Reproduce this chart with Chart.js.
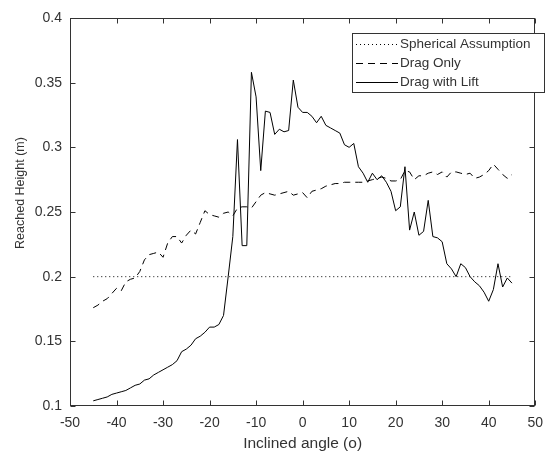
<!DOCTYPE html>
<html>
<head>
<meta charset="utf-8">
<script src="https://cdn.jsdelivr.net/npm/chart.js@4/dist/chart.umd.min.js"></script>
<style>
html,body{margin:0;padding:0;background:#fff;}
#wrap{width:552px;height:456px;}
</style>
</head>
<body>
<div id="wrap"><canvas id="c" width="552" height="456"></canvas></div>
<script>
const angles = [-45,-44,-43,-42,-41,-40,-39,-38,-37,-36,-35,-34,-33,-32,-31,-30,-29,-28,-27,-26,-25,-24,-23,-22,-21,-20,-19,-18,-17,-16,-15,-14,-13,-12,-11,-10,-9,-8,-7,-6,-5,-4,-3,-2,-1,0,1,2,3,4,5,6,7,8,9,10,11,12,13,14,15,16,17,18,19,20,21,22,23,24,25,26,27,28,29,30,31,32,33,34,35,36,37,38,39,40,41,42,43,44,45];

const sphericalHeight = 0.2;

const dragOnly = [0.176,0.178,0.181,0.183,0.187,0.191,0.189,0.196,0.198,0.199,0.204,0.213,0.217,0.218,0.219,0.215,0.226,0.231,0.231,0.226,0.232,0.236,0.233,0.242,0.251,0.248,0.247,0.246,0.249,0.250,0.247,0.253,0.254,0.254,0.253,0.258,0.263,0.265,0.264,0.263,0.264,0.265,0.266,0.263,0.264,0.265,0.261,0.266,0.267,0.268,0.270,0.271,0.272,0.272,0.273,0.273,0.273,0.273,0.273,0.274,0.275,0.276,0.277,0.276,0.274,0.274,0.275,0.282,0.281,0.275,0.278,0.278,0.280,0.281,0.279,0.281,0.277,0.281,0.281,0.280,0.279,0.280,0.276,0.277,0.279,0.282,0.287,0.283,0.279,0.276,0.279];

const dragWithLift = [0.104,0.105,0.106,0.107,0.109,0.110,0.111,0.112,0.114,0.116,0.117,0.120,0.121,0.124,0.126,0.128,0.130,0.132,0.135,0.142,0.144,0.147,0.152,0.154,0.157,0.161,0.161,0.163,0.170,0.200,0.231,0.306,0.224,0.224,0.358,0.339,0.282,0.328,0.327,0.310,0.314,0.312,0.313,0.352,0.331,0.327,0.327,0.324,0.319,0.324,0.317,0.315,0.313,0.311,0.302,0.300,0.303,0.285,0.280,0.273,0.280,0.275,0.278,0.273,0.266,0.251,0.254,0.285,0.236,0.250,0.232,0.235,0.259,0.231,0.230,0.227,0.210,0.206,0.200,0.210,0.207,0.200,0.196,0.193,0.188,0.181,0.190,0.210,0.192,0.199,0.195];

const seriesNames = ["Spherical Assumption","Drag Only","Drag with Lift"];
const xTicks = [-50,-40,-30,-20,-10,0,10,20,30,40,50];
const yTicks = [0.1,0.15,0.2,0.25,0.3,0.35,0.4];
const xTitle = "Inclined angle (o)";
const yTitle = "Reached Height (m)";

const FONT = "'Liberation Sans', Arial, Helvetica, sans-serif";
const TXT = '#333333';
const AX = '#333333';
const LINE = '#000000';
const DASH = [7,5];
const DOT = [1,3];

const pts = arr => angles.map((a,i)=>({x:a,y:arr[i]}));

const dsStyles = [
  {borderDash:DOT, borderWidth:1},
  {borderDash:DASH, borderWidth:1},
  {borderDash:[], borderWidth:1}
];

const frameTicks = {
  id:'frameTicks',
  afterDatasetsDraw(chart){
    const {ctx, chartArea:a, scales} = chart;
    const xs = scales.x, ys = scales.y;
    ctx.save();
    ctx.strokeStyle = AX;
    ctx.lineWidth = 1;
    ctx.setLineDash([]);
    const L = Math.round(a.left)+0.5, R = Math.round(a.right)-0.5;
    const T = Math.round(a.top)+0.5, B = Math.round(a.bottom)-0.5;
    ctx.strokeRect(L, T, R-L, B-T);
    const tl = 5;
    ctx.beginPath();
    xTicks.forEach(v=>{
      const px = Math.round(xs.getPixelForValue(v))+0.5;
      ctx.moveTo(px,B); ctx.lineTo(px,B-tl);
      ctx.moveTo(px,T); ctx.lineTo(px,T+tl);
    });
    yTicks.forEach(v=>{
      const py = Math.round(ys.getPixelForValue(v))+0.5;
      ctx.moveTo(L,py); ctx.lineTo(L+tl,py);
      ctx.moveTo(R,py); ctx.lineTo(R-tl,py);
    });
    ctx.stroke();

    // y-axis title
    ctx.save();
    ctx.translate(21, 193);
    ctx.rotate(-Math.PI/2);
    ctx.font = '12.5px ' + FONT;
    ctx.fillStyle = TXT;
    ctx.textAlign = 'center';
    ctx.textBaseline = 'middle';
    ctx.fillText(yTitle, 0, 0);
    ctx.restore();

    // legend box
    const bx = 352.5, by = 33.5, bw = 192, bh = 59;
    ctx.fillStyle = '#fff';
    ctx.fillRect(bx,by,bw,bh);
    ctx.strokeStyle = AX;
    ctx.strokeRect(bx,by,bw,bh);
    ctx.font = '13.5px ' + FONT;
    ctx.textBaseline = 'middle';
    ctx.textAlign = 'left';
    seriesNames.forEach((name,i)=>{
      const yy = 44.5 + i*19;
      ctx.save();
      ctx.strokeStyle = LINE;
      ctx.lineWidth = 1;
      ctx.setLineDash(dsStyles[i].borderDash);
      ctx.beginPath();
      ctx.moveTo(356, yy); ctx.lineTo(398, yy);
      ctx.stroke();
      ctx.restore();
      ctx.fillStyle = TXT;
      ctx.fillText(name, 400, yy);
    });
    ctx.restore();
  }
};

new Chart(document.getElementById('c'), {
  type:'line',
  data:{
    datasets:[
      {label:seriesNames[0], data:pts(angles.map(()=>sphericalHeight)), borderColor:LINE, ...dsStyles[0]},
      {label:seriesNames[1], data:pts(dragOnly), borderColor:LINE, ...dsStyles[1]},
      {label:seriesNames[2], data:pts(dragWithLift), borderColor:LINE, ...dsStyles[2]}
    ]
  },
  options:{
    responsive:false,
    animation:false,
    devicePixelRatio:1,
    layout:{padding:{left:0,right:4,top:18,bottom:0}},
    elements:{point:{radius:0}, line:{tension:0, fill:false}},
    plugins:{legend:{display:false}, tooltip:{enabled:false}},
    scales:{
      x:{
        type:'linear', min:-50, max:50,
        afterBuildTicks: s => { s.ticks = xTicks.map(v=>({value:v})); },
        grid:{display:false, drawTicks:false},
        border:{display:false},
        ticks:{color:TXT, font:{family:FONT,size:14}, padding:9, maxRotation:0, autoSkip:false,
          callback: v => String(v)},
        title:{display:true, text:xTitle, color:TXT, font:{family:FONT,size:15.5}, padding:{top:2,bottom:3}},
        afterFit: s => { s.height = 50; }
      },
      y:{
        type:'linear', min:0.1, max:0.4,
        afterBuildTicks: s => { s.ticks = yTicks.map(v=>({value:v})); },
        grid:{display:false, drawTicks:false},
        border:{display:false},
        ticks:{color:TXT, font:{family:FONT,size:14}, padding:8, autoSkip:false,
          callback: v => String(+v.toFixed(2))},
        title:{display:false, text:yTitle},
        afterFit: s => { s.width = 70; }
      }
    }
  },
  plugins:[frameTicks]
});
</script>
</body>
</html>
